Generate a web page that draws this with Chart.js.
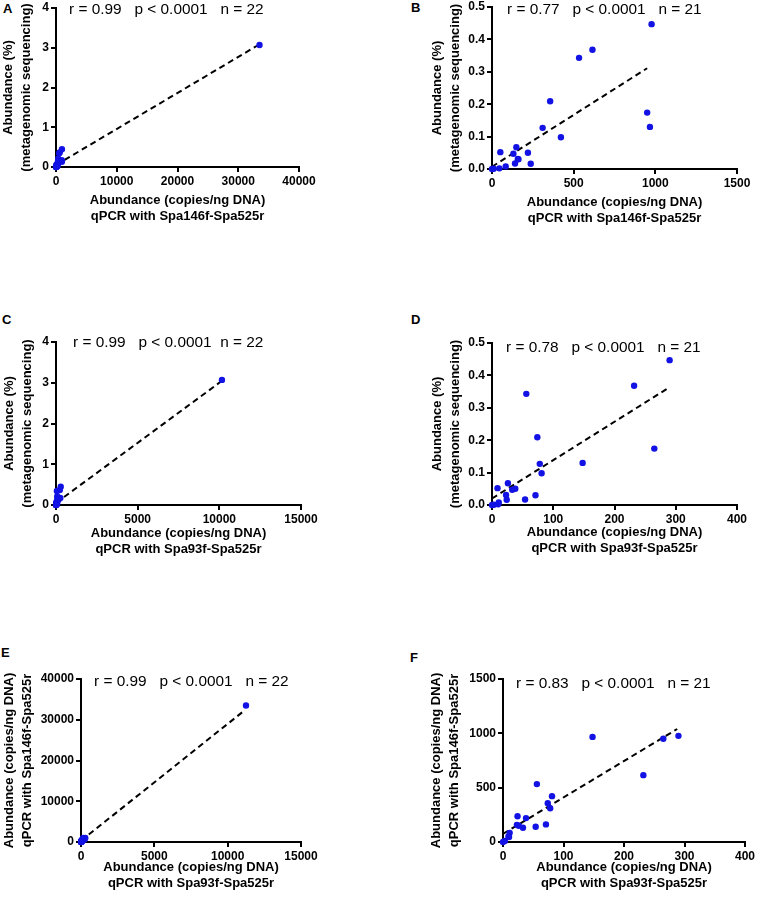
<!DOCTYPE html>
<html>
<head>
<meta charset="utf-8">
<script src="https://cdn.jsdelivr.net/npm/chart.js@4.4.1/dist/chart.umd.min.js"></script>
<style>
body{margin:0;background:#fff;}
#page{position:relative;width:758px;height:903px;overflow:hidden;font-family:"Liberation Sans",Arial,sans-serif;}
canvas{position:absolute;}
.lbl{position:absolute;font-weight:bold;font-size:13px;line-height:13px;}
</style>
</head>
<body>
<div id="page">
  <div class="lbl" style="left:3px;top:2px">A</div>
  <div class="lbl" style="left:411px;top:1px">B</div>
  <div class="lbl" style="left:2px;top:313px">C</div>
  <div class="lbl" style="left:411px;top:313px">D</div>
  <div class="lbl" style="left:1px;top:646px">E</div>
  <div class="lbl" style="left:410px;top:651px">F</div>
  <canvas id="cA"></canvas>
  <canvas id="cB"></canvas>
  <canvas id="cC"></canvas>
  <canvas id="cD"></canvas>
  <canvas id="cE"></canvas>
  <canvas id="cF"></canvas>
</div>
<script>
// samples: qPCR Spa146f-Spa525r, qPCR Spa93f-Spa525r, metagenomic abundance (%)
// first sample is the high outlier (only in panels A, C, E)
var spa146 = [33500, 977, 615, 533, 356, 950, 967, 310, 422, 51, 149, 131, 220, 158, 162, 141, 237, 84, 45, 10, 0];
var spa93  = [10160, 290, 232, 56, 74, 265, 148, 78, 81, 9, 26, 33, 38, 23, 71, 54, 24, 11, 10, 3, 0];
var abund  = [3.07, 0.447, 0.368, 0.343, 0.209, 0.174, 0.130, 0.127, 0.098, 0.052, 0.067, 0.047, 0.050, 0.031, 0.030, 0.017, 0.016, 0.008, 0.002, 0.001, 0.0];
// panel E shows the outlier further right than panel C does
var spa93E = [11250].concat(spa93.slice(1));

// regression lines (start, end)
var fitA = [[0, 0.05], [33100, 3.05]];
var fitB = [[0, 0.007], [950, 0.311]];
var fitC = [[0, 0.05], [10100, 3.03]];
var fitD = [[0, 0.02], [287, 0.36]];
var fitE = [[0, 300], [11050, 32000]];
var fitF = [[0, 75], [288, 1040]];

var ticksPct = [0, 1, 2, 3, 4];
var ticksPctLow = [0, 0.1, 0.2, 0.3, 0.4, 0.5];
var ticks146All = [0, 10000, 20000, 30000, 40000];
var ticks146 = [0, 500, 1000, 1500];
var ticks93All = [0, 5000, 10000, 15000];
var ticks93 = [0, 100, 200, 300, 400];

var statsA = "r = 0.99   p < 0.0001   n = 22";
var statsB = "r = 0.77   p < 0.0001   n = 21";
var statsC = "r = 0.99   p < 0.0001  n = 22";
var statsD = "r = 0.78   p < 0.0001   n = 21";
var statsE = "r = 0.99   p < 0.0001   n = 22";
var statsF = "r = 0.83   p < 0.0001   n = 21";

var titlePct = ["Abundance (%)", "(metagenomic sequencing)"];
var title146 = ["Abundance (copies/ng DNA)", "qPCR with Spa146f-Spa525r"];
var title93 = ["Abundance (copies/ng DNA)", "qPCR with Spa93f-Spa525r"];

var FONT = '"Liberation Sans", Arial, sans-serif';
var BLUE = '#1212e4';
var LH_Y = 17.5, LH_X = 16;

function pts(xs, ys, from) {
    var out = [];
    for (var i = from; i < xs.length; i++) out.push({x: xs[i], y: ys[i]});
    return out;
}

var statsPlugin = {
    id: 'stats',
    afterDraw: function (chart, args, opts) {
        var ctx = chart.ctx, a = chart.chartArea;
        ctx.save();
        ctx.font = '15.4px ' + FONT;
        ctx.fillStyle = '#000';
        ctx.textBaseline = 'middle';
        ctx.fillText(opts.text, a.left + opts.dx, a.top + opts.dy);
        ctx.restore();
    }
};

function axis(list, title, isX, size, dec) {
    return {
        type: 'linear',
        min: list[0],
        max: list[list.length - 1],
        afterBuildTicks: function (s) { s.ticks = list.map(function (v) { return {value: v}; }); },
        afterFit: function (s) { if (isX) s.height = size; else s.width = size; },
        grid: {display: true, drawOnChartArea: false, drawTicks: true, tickLength: 5, lineWidth: 2, color: '#000'},
        border: {display: true, color: '#000', width: 2},
        ticks: {
            autoSkip: false, maxRotation: 0, padding: 2, color: '#000',
            font: {family: FONT, size: 12, weight: 'bold'},
            callback: function (v) { return dec ? v.toFixed(1) : String(v); }
        },
        title: {
            display: true, text: title, color: '#000', padding: 0,
            font: {family: FONT, size: 13, weight: 'bold', lineHeight: (isX ? LH_X : LH_Y) / 13}
        }
    };
}

function panel(id, p) {
    var cl = Math.round(p.yTitleX - LH_Y / 2);
    var ct = p.t - 15;
    var cr = p.r + 40;
    var cb = Math.round(p.xTitleY + LH_X / 2);
    var cv = document.getElementById(id);
    cv.width = cr - cl; cv.height = cb - ct;
    cv.style.left = cl + 'px'; cv.style.top = ct + 'px';
    new Chart(cv, {
        type: 'scatter',
        data: {
            datasets: [
                {data: p.points, backgroundColor: BLUE, borderColor: BLUE, pointRadius: 3.2, pointBorderWidth: 0, clip: false},
                {type: 'line', data: p.fit.map(function (q) { return {x: q[0], y: q[1]}; }),
                 borderColor: '#000', borderWidth: 2, borderDash: [6, 4], pointRadius: 0, fill: false, clip: false}
            ]
        },
        options: {
            responsive: false, animation: false, devicePixelRatio: 1,
            layout: {padding: {left: 0, top: p.t - ct, right: cr - p.r, bottom: 0}},
            plugins: {legend: {display: false}, tooltip: {enabled: false},
                      stats: {text: p.stats, dx: p.dx, dy: p.dy}},
            scales: {
                x: axis(p.xt, p.xTitle, true, cb - p.b, false),
                y: axis(p.yt, p.yTitle, false, p.l - cl, p.dec)
            }
        },
        plugins: [statsPlugin]
    });
}

panel('cA', {l: 56, t: 8, r: 299, b: 167, yTitleX: 9, xTitleY: 216, points: pts(spa146, abund, 0), fit: fitA,
    xt: ticks146All, yt: ticksPct, xTitle: title146, yTitle: titlePct, dec: false, stats: statsA, dx: 13, dy: 2});
panel('cB', {l: 492, t: 7, r: 737, b: 169, yTitleX: 438, xTitleY: 218, points: pts(spa146, abund, 1), fit: fitB,
    xt: ticks146, yt: ticksPctLow, xTitle: title146, yTitle: titlePct, dec: true, stats: statsB, dx: 15, dy: 3});
panel('cC', {l: 56, t: 342, r: 301, b: 505, yTitleX: 10, xTitleY: 549, points: pts(spa93, abund, 0), fit: fitC,
    xt: ticks93All, yt: ticksPct, xTitle: title93, yTitle: titlePct, dec: false, stats: statsC, dx: 17, dy: 1});
panel('cD', {l: 492, t: 343, r: 737, b: 505, yTitleX: 438, xTitleY: 548, points: pts(spa93, abund, 1), fit: fitD,
    xt: ticks93, yt: ticksPctLow, xTitle: title93, yTitle: titlePct, dec: true, stats: statsD, dx: 14, dy: 5});
panel('cE', {l: 81, t: 679, r: 301, b: 842, yTitleX: 10, xTitleY: 883, points: pts(spa93E, spa146, 0), fit: fitE,
    xt: ticks93All, yt: ticks146All, xTitle: title93, yTitle: title146, dec: false, stats: statsE, dx: 13, dy: 3});
panel('cF', {l: 503, t: 679, r: 745, b: 842, yTitleX: 437, xTitleY: 883, points: pts(spa93, spa146, 1), fit: fitF,
    xt: ticks93, yt: ticks146, xTitle: title93, yTitle: title146, dec: false, stats: statsF, dx: 13, dy: 5});
</script>
</body>
</html>
